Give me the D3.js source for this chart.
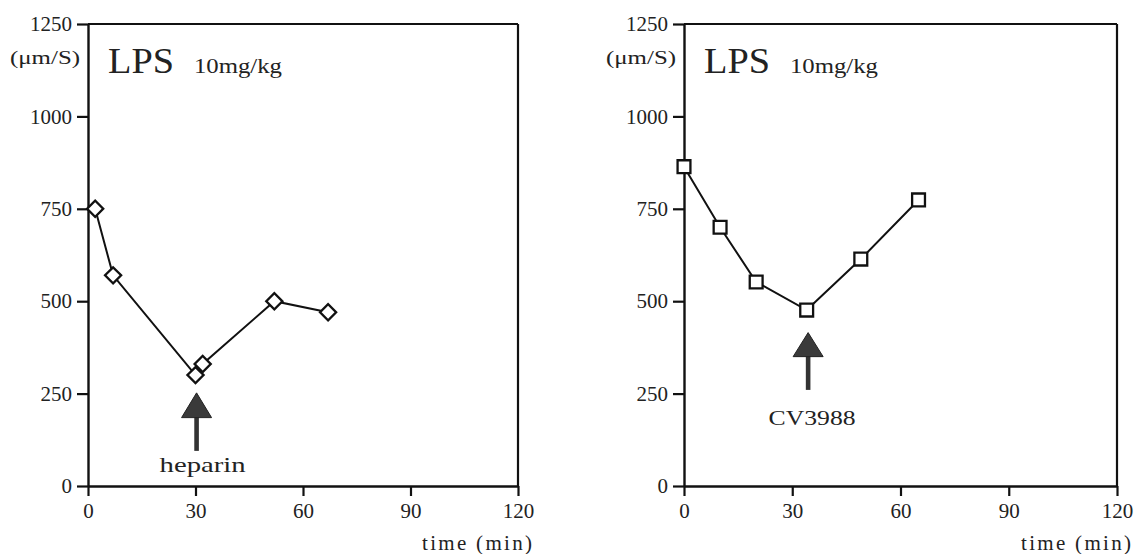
<!DOCTYPE html>
<html>
<head>
<meta charset="utf-8">
<script src="https://cdn.jsdelivr.net/npm/d3@7"></script>
<style>
  html, body { margin: 0; padding: 0; background: #fff; }
  svg { display: block; }
  svg text { font-family: "Liberation Serif", "Times New Roman", Times, serif !important; fill: #222; }
</style>
</head>
<body>
<svg id="chart" width="1134" height="554"></svg>
<script>
// ---- data ----
const yTicks = [0, 250, 500, 750, 1000, 1250];
const xTicks = [0, 30, 60, 90, 120];
const leftTimes = [2, 7, 30, 32, 52, 67];
const leftValues = [750, 570, 300, 330, 500, 470];
const rightTimes = [0, 10, 20, 34, 49, 65];
const rightValues = [864, 700, 552, 476, 614, 774];
const leftArrow = { time: 30.3, tip: 252, base: 185, end: 95, label: "heparin" };
const rightArrow = { time: 34.4, tip: 415, base: 350, end: 260, label: "CV3988" };
const titleMain = "LPS";
const titleDose = "10mg/kg";
const yUnit = "(μm/S)";
const xTitle = "time (min)";

const svg = d3.select("#chart");
const yDomain = [0, 1250], xDomain = [0, 120];

function panel(opts) {
  const x = d3.scaleLinear().domain(xDomain).range([opts.x0, opts.x1]);
  const y = d3.scaleLinear().domain(yDomain).range([486, 24]);
  const g = svg.append("g");

  // frame (top and right)
  g.append("line").attr("x1", x(0)).attr("x2", x(120)).attr("y1", y(1250)).attr("y2", y(1250))
    .attr("stroke", "#111").attr("stroke-width", 2.2);
  g.append("line").attr("x1", x(120)).attr("x2", x(120)).attr("y1", y(1250)).attr("y2", y(0))
    .attr("stroke", "#111").attr("stroke-width", 2.2);

  // y axis
  const ya = g.append("g").attr("transform", `translate(${x(0)},0)`)
    .call(d3.axisLeft(y).tickValues(yTicks).tickFormat(d3.format("d"))
      .tickSize(11).tickPadding(5).tickSizeOuter(0));
  ya.attr("font-family", null);
  ya.select(".domain").attr("stroke", "#111").attr("stroke-width", 2.4);
  ya.selectAll(".tick line").attr("stroke", "#111").attr("stroke-width", 2.2);
  ya.selectAll(".tick text").attr("font-size", 21).attr("fill", "#222");

  // x axis
  const xa = g.append("g").attr("transform", `translate(0,${y(0)})`)
    .call(d3.axisBottom(x).tickValues(xTicks).tickFormat(d3.format("d"))
      .tickSize(10).tickPadding(7).tickSizeOuter(0));
  xa.attr("font-family", null);
  xa.select(".domain").attr("stroke", "#111").attr("stroke-width", 2.4);
  xa.selectAll(".tick line").attr("stroke", "#111").attr("stroke-width", 2.2);
  xa.selectAll(".tick text").attr("font-size", 21).attr("fill", "#222");

  // axis titles
  g.append("text").attr("x", x(0) - 8).attr("y", 64).attr("text-anchor", "end")
    .attr("font-size", 19).attr("textLength", 70).attr("lengthAdjust", "spacingAndGlyphs").text(yUnit);
  g.append("text").attr("x", x(120) + 14).attr("y", 550).attr("text-anchor", "end")
    .attr("font-size", 21).attr("textLength", 110).attr("lengthAdjust", "spacing").text(xTitle);

  // title
  g.append("text").attr("x", x(0) + 20).attr("y", 73).attr("font-size", 36)
    .attr("textLength", 66).attr("lengthAdjust", "spacingAndGlyphs").text(titleMain);
  g.append("text").attr("x", x(0) + 106).attr("y", 73).attr("font-size", 22)
    .attr("textLength", 88).attr("lengthAdjust", "spacingAndGlyphs").text(titleDose);

  // arrow
  const a = opts.arrow, ax = x(a.time);
  g.append("rect").attr("x", ax - 2.3).attr("width", 4.6)
    .attr("y", y(a.base) - 1).attr("height", y(a.end) - y(a.base) + 1).attr("fill", "#333");
  g.append("path")
    .attr("d", `M${ax},${y(a.tip)} L${ax - 15},${y(a.base)} L${ax + 15},${y(a.base)} Z`)
    .attr("fill", "#3a3a3a").attr("stroke", "#222").attr("stroke-width", 1);
  g.append("text").attr("x", ax + opts.labelDx).attr("y", y(a.end) + opts.labelDy)
    .attr("text-anchor", "middle").attr("font-size", 22)
    .attr("textLength", opts.labelW).attr("lengthAdjust", "spacingAndGlyphs").text(a.label);

  // series
  const pts = opts.times.map((t, i) => [t, opts.values[i]]);
  g.append("path").datum(pts)
    .attr("d", d3.line().x(d => x(d[0])).y(d => y(d[1])))
    .attr("fill", "none").attr("stroke", "#111").attr("stroke-width", 2);
  const sym = d3.symbol().type(d3.symbolSquare).size(opts.symbolSize);
  g.selectAll("path.m").data(pts).join("path").attr("class", "m")
    .attr("d", sym)
    .attr("transform", d => `translate(${x(d[0])},${y(d[1])})` + (opts.rotate ? " rotate(45)" : ""))
    .attr("fill", "#fff").attr("stroke", "#111").attr("stroke-width", 2.3);
}

panel({ x0: 88, x1: 518, times: leftTimes, values: leftValues, arrow: leftArrow,
  rotate: true, symbolSize: 130, labelDx: 6, labelDy: 21, labelW: 86 });
panel({ x0: 684, x1: 1117, times: rightTimes, values: rightValues, arrow: rightArrow,
  rotate: false, symbolSize: 165, labelDx: 4, labelDy: 35, labelW: 87 });
</script>
</body>
</html>
